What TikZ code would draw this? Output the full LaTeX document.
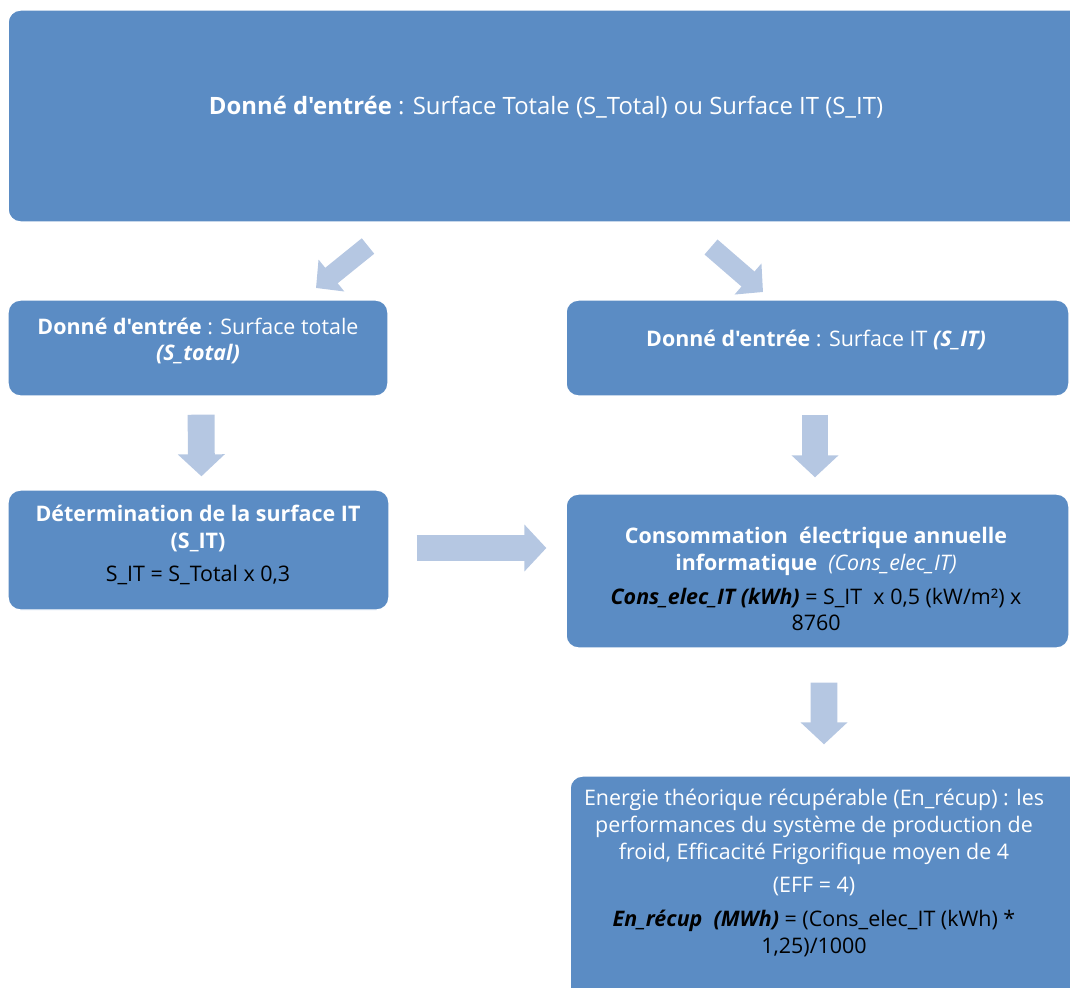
\documentclass[tikz,border=0pt]{standalone}
\usepackage{fontspec}
\setmainfont{Open Sans}[Ligatures=TeXOff]
\usetikzlibrary{arrows.meta,positioning}
\definecolor{boxblue}{RGB}{91,140,196}
\definecolor{arrowblue}{RGB}{181,199,226}
\newcommand{\blk}[1]{\textcolor{black}{#1}}
\tikzset{
  box/.style={draw=white, line width=0.8pt, fill=boxblue, rounded corners=7pt, inner sep=0pt},
  txt/.style={align=center, text=white, font=\fontsize{12.2}{15.3}\selectfont, inner sep=0pt},
  bigarrow/.style={draw=arrowblue, line width=15.3pt, -{Triangle[length=12.5pt,width=26pt]}},
  slantarrow/.style={draw=arrowblue, line width=11.3pt, -{Triangle[length=11.3pt,width=22.7pt]}}
}
\begin{document}
\begin{tikzpicture}[x=0.02cm, y=-0.02cm]
  \useasboundingbox (0,0) rectangle (1070,987);
  \clip (0,0) rectangle (1070,987);
  % boxes
  \node[box, minimum width=21.52cm, minimum height=4.24cm] (entree) at (546,116) {};
  \node[txt, font=\fontsize{13.6}{16}\selectfont] (entreetxt) at (546,107) {\textbf{Donné d'entrée} : Surface Totale (S\_Total) ou Surface IT (S\_IT)};
  \node[box, minimum width=7.6cm, minimum height=1.92cm] (stotal) at (198,348) {};
  \node[txt] (stotaltxt) at (198,341) {\textbf{Donné d'entrée} : Surface totale\\\textbf{\textit{(S\_total)}}};
  \node[box, minimum width=7.62cm, minimum height=2.4cm] (sit) at (198.5,550) {};
  \node[txt] (sittxt) at (198,545) {\textbf{Détermination de la surface IT}\\\textbf{(S\_IT)}\\[4pt]\blk{S\_IT = S\_Total x 0,3}};
  \node[box, minimum width=10.06cm, minimum height=1.92cm] (sitin) at (817.5,348) {};
  \node[txt] (sitintxt) at (816,340) {\textbf{Donné d'entrée} : Surface IT \textbf{\textit{(S\_IT)}}};
  \node[box, minimum width=10.06cm, minimum height=3.08cm] (cons) at (817.5,571) {};
  \node[txt] (constxt) at (816,579) {\textbf{Consommation\ \ électrique annuelle}\\\textbf{informatique}\ \ \textit{(Cons\_elec\_IT)}\\[4pt]
    \blk{\textbf{\textit{Cons\_elec\_IT (kWh)}} = S\_IT\ \ x 0,5 (kW/m²) x}\\\blk{8760}};
  \node[box, minimum width=10.3cm, minimum height=4.48cm] (recup) at (827.5,888) {};
  \node[txt] (recuptxt) at (814,873) {Energie théorique récupérable (En\_récup) : les\\performances du système de production de\\froid, Efficacité Frigorifique moyen de 4\\[4pt]
    (EFF = 4)\\[4pt]\blk{\textbf{\textit{En\_récup\ \ (MWh)}} = (Cons\_elec\_IT (kWh) *}\\\blk{1,25)/1000}};
  % arrows
  \coordinate (slantLa) at (368,246);
  \coordinate (slantLb) at (316,288);
  \coordinate (slantRa) at (711,247);
  \coordinate (slantRb) at (763,292);
  \draw[slantarrow] (slantLa) -- (slantLb);
  \draw[slantarrow] (slantRa) -- (slantRb);
  \draw[bigarrow, shorten <=0.36cm, shorten >=0.26cm] ([xshift=0.06cm]stotal.south) -- ([xshift=0.06cm]sit.north);
  \draw[bigarrow, shorten <=0.36cm, shorten >=0.32cm] ([xshift=-0.05cm]sitin.south) -- ([xshift=-0.05cm]cons.north);
  \draw[bigarrow, shorten <=0.68cm, shorten >=0.62cm] ([xshift=0.13cm]cons.south) -- ([xshift=-0.07cm]recup.north);
  \draw[bigarrow, shorten <=0.54cm, shorten >=0.38cm] ([yshift=0.04cm]sit.east) -- ([yshift=0.04cm]sit.east -| cons.west);
\end{tikzpicture}
\end{document}
